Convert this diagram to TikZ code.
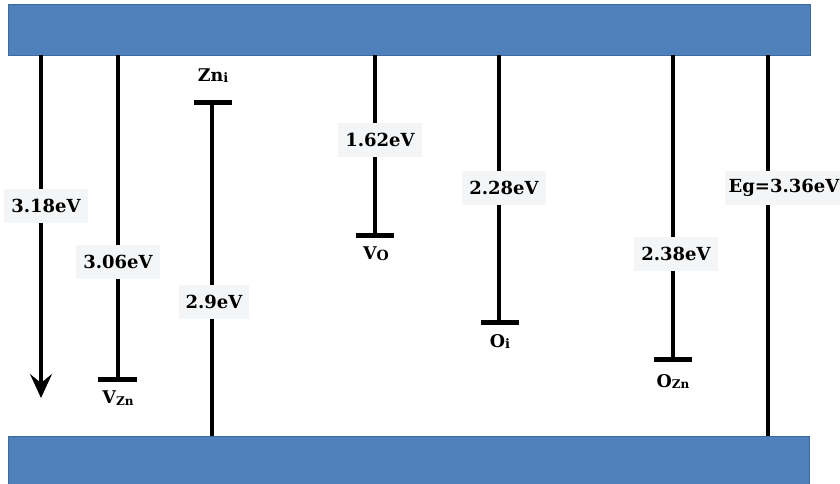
\documentclass[tikz,border=0pt]{standalone}
\usepackage{fontspec}
\setmainfont{DejaVu Serif}
\usetikzlibrary{arrows.meta}
\definecolor{bandblue}{RGB}{79,129,189}
\definecolor{banddark}{RGB}{62,106,160}
\definecolor{labelbg}{RGB}{243,245,246}
\begin{document}
\begin{tikzpicture}[x=1pt,y=-1pt,
  band/.style={fill=bandblue,draw=banddark,line width=0.8pt},
  level/.style={line width=3.4pt,draw=black},
  bar/.style={line width=5pt,draw=black},
  elabel/.style={fill=labelbg,inner xsep=7pt,minimum height=34pt,font=\fontsize{18}{20}\selectfont\bfseries},
  dlabel/.style={inner sep=1pt,font=\fontsize{17.5}{19}\selectfont\bfseries},
  arr/.style={line width=3.4pt,-{Stealth[length=24pt,width=22pt,inset=9pt]}}]
\useasboundingbox (0,0) rectangle (840,483);
% bands
\fill[white] (0,0) rectangle (840,483);
\node[band,minimum width=802pt,minimum height=51pt,inner sep=0pt] (cb) at (409,30) {};
\node[band,minimum width=801pt,minimum height=48pt,inner sep=0pt] (vb) at (408.5,460) {};
% coordinates
\coordinate (a1) at (41,55);   \coordinate (a2) at (41,398);
\coordinate (v1) at (118,55);  \coordinate (v2) at (118,379);
\coordinate (vl) at (98,379);  \coordinate (vr) at (137,379);
\coordinate (z1) at (212,102); \coordinate (z2) at (212,436);
\coordinate (zl) at (194,102); \coordinate (zr) at (232,102);
\coordinate (o1) at (375,55);  \coordinate (o2) at (375,235);
\coordinate (ol) at (356,235); \coordinate (or) at (394,235);
\coordinate (i1) at (499,55);  \coordinate (i2) at (499,322);
\coordinate (il) at (481,322); \coordinate (ir) at (519,322);
\coordinate (s1) at (673,55);  \coordinate (s2) at (673,359);
\coordinate (sl) at (654,359); \coordinate (sr) at (692,359);
\coordinate (e1) at (768,55);  \coordinate (e2) at (768,436);
% lines
\draw[arr] (a1) -- (a2);
\draw[level] (v1) -- (v2);
\draw[bar] (vl) -- (vr);
\draw[level] (z1) -- (z2);
\draw[bar] (zl) -- (zr);
\draw[level] (o1) -- (o2);
\draw[bar] (ol) -- (or);
\draw[level] (i1) -- (i2);
\draw[bar] (il) -- (ir);
\draw[level] (s1) -- (s2);
\draw[bar] (sl) -- (sr);
\draw[level] (e1) -- (e2);
% energy labels
\node[elabel] (l318) at (46,206) {3.18eV};
\node[elabel] (l306) at (118,262) {3.06eV};
\node[elabel] (l29) at (214,302) {2.9eV};
\node[elabel] (l162) at (380,140) {1.62eV};
\node[elabel] (l228) at (504,188) {2.28eV};
\node[elabel] (l238) at (676,254) {2.38eV};
\node[elabel,inner xsep=4pt] (leg) at (784,188) {Eg=3.36eV};
% defect labels
\node[dlabel] (nzni) at (213,76) {Zn\raisebox{-1pt}{\fontsize{13}{12}\selectfont i}};
\node[dlabel] (nvzn) at (118,398) {V\raisebox{-2pt}{\fontsize{12}{12}\selectfont Zn}};
\node[dlabel] (nvo) at (376,254) {V\raisebox{-1pt}{\fontsize{14}{12}\selectfont O}};
\node[dlabel] (noi) at (500,341) {O\raisebox{-1pt}{\fontsize{13}{12}\selectfont i}};
\node[dlabel] (nozn) at (673,381) {O\raisebox{-1pt}{\fontsize{12}{12}\selectfont Zn}};
\end{tikzpicture}
\end{document}
